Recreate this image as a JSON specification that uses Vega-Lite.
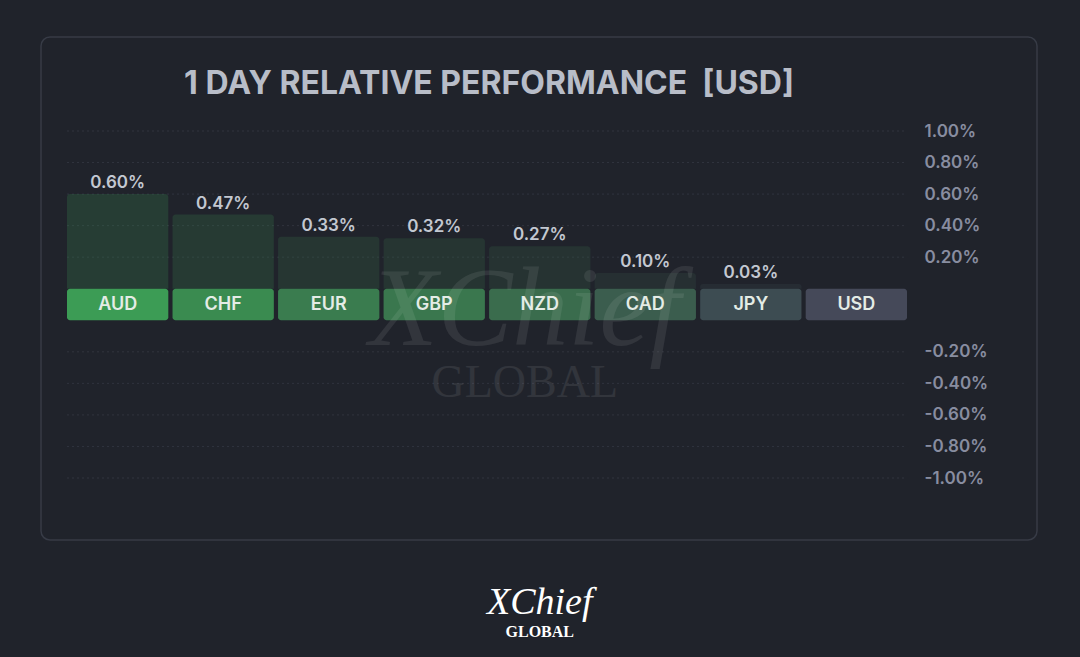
{
  "$schema": "https://vega.github.io/schema/vega-lite/v6.json",
  "width": 996,
  "height": 503,
  "autosize": {"type": "none"},
  "padding": {"left": 41, "top": 37, "right": 43, "bottom": 117},
  "background": "#20232b",
  "view": {"fill": "#20232b", "stroke": "#373b46", "strokeWidth": 1.5, "cornerRadius": 9},
  "title": {
    "text": "1 DAY RELATIVE PERFORMANCE\u00a0 [USD]",
    "orient": "top",
    "anchor": "middle",
    "frame": "group",
    "offset": -89,
    "dx": -50,
    "baseline": "alphabetic",
    "font": "Inter",
    "fontSize": 32,
    "fontWeight": 700,
    "color": "#b8bdc8"
  },
  "datasets": {
    "perf": [
      {"currency": "AUD", "change": 0.0060},
      {"currency": "CHF", "change": 0.0047},
      {"currency": "EUR", "change": 0.0033},
      {"currency": "GBP", "change": 0.0032},
      {"currency": "NZD", "change": 0.0027},
      {"currency": "CAD", "change": 0.0010},
      {"currency": "JPY", "change": 0.0003},
      {"currency": "USD", "change": 0}
    ],
    "grid": [
      {"level": 0.010}, {"level": 0.008}, {"level": 0.006}, {"level": 0.004}, {"level": 0.002},
      {"level": -0.004}, {"level": -0.006}, {"level": -0.008}, {"level": -0.010}, {"level": -0.012}
    ]
  },
  "encoding": {
    "x": {
      "field": "currency",
      "type": "nominal",
      "axis": null,
      "scale": {
        "domain": ["AUD", "CHF", "EUR", "GBP", "NZD", "CAD", "JPY", "USD"],
        "range": [26, 866],
        "paddingInner": 0.04,
        "paddingOuter": 0
      }
    }
  },
  "layer": [
    {
      "data": {"name": "grid"},
      "mark": {"type": "rule", "color": "#30343e", "strokeDash": [2, 3], "strokeWidth": 1},
      "encoding": {
        "x": {"datum": "AUD", "bandPosition": 0},
        "x2": {"datum": "USD", "bandPosition": 1},
        "y": {
          "field": "level",
          "type": "quantitative",
          "scale": {"domain": [-0.012, 0.010], "range": [441, 94], "zero": false, "nice": false},
          "axis": {
            "orient": "right",
            "values": [0.010, 0.008, 0.006, 0.004, 0.002, -0.004, -0.006, -0.008, -0.010, -0.012],
            "labelExpr": "datum.value > 0 ? format(datum.value, '.2%') : '-' + format(-(datum.value + 0.002), '.2%')",
            "offset": -114,
            "ticks": false,
            "tickSize": 0,
            "domain": false,
            "grid": false,
            "title": null,
            "labelPadding": 1,
            "labelFont": "Inter",
            "labelFontSize": 17,
            "labelFontWeight": 600,
            "labelColor": "#888da0",
            "labelAlign": "left",
            "labelBaseline": "middle"
          }
        }
      }
    },
    {
      "data": {"name": "perf"},
      "mark": {"type": "bar", "opacity": 0.22, "cornerRadiusTopLeft": 3, "cornerRadiusTopRight": 3},
      "encoding": {
        "y": {"field": "change", "type": "quantitative"},
        "y2": {"datum": 0},
        "color": {
          "field": "currency",
          "type": "nominal",
          "legend": null,
          "scale": {
            "domain": ["AUD", "CHF", "EUR", "GBP", "NZD", "CAD", "JPY", "USD"],
            "range": ["#3c9c55", "#3a8b50", "#3a7c4f", "#3a774e", "#3a6c4d", "#3b5d4e", "#3d4c52", "#454959"]
          }
        }
      }
    },
    {
      "data": {"name": "perf"},
      "mark": {"type": "bar", "cornerRadius": 3},
      "encoding": {
        "y": {"datum": 0},
        "y2": {"datum": -0.002},
        "color": {"field": "currency", "type": "nominal"}
      }
    },
    {
      "data": {"values": [{"mark": "XChief", "pos": -0.00357}]},
      "mark": {"type": "text", "font": "Liberation Serif", "fontStyle": "italic", "fontSize": 112, "fill": "#ffffff", "opacity": 0.08, "align": "center", "baseline": "alphabetic", "dx": -15},
      "encoding": {
        "x": {"datum": "NZD"},
        "y": {"field": "pos", "type": "quantitative"},
        "text": {"field": "mark"}
      }
    },
    {
      "data": {"values": [{"mark": "GLOBAL", "pos": -0.00687}]},
      "mark": {"type": "text", "font": "Liberation Serif", "fontSize": 46, "fill": "#ffffff", "opacity": 0.08, "align": "center", "baseline": "alphabetic", "dx": -15},
      "encoding": {
        "x": {"datum": "NZD"},
        "y": {"field": "pos", "type": "quantitative"},
        "text": {"field": "mark"}
      }
    },
    {
      "data": {"name": "perf"},
      "mark": {"type": "text", "font": "Inter", "fontSize": 18, "fontWeight": 600, "color": "#e4ece6", "baseline": "middle"},
      "encoding": {
        "y": {"datum": -0.001},
        "text": {"field": "currency"}
      }
    },
    {
      "data": {"name": "perf"},
      "transform": [{"filter": "datum.change > 0"}],
      "mark": {"type": "text", "font": "Inter", "fontSize": 17, "fontWeight": 600, "color": "#c3c8d1", "baseline": "alphabetic", "dy": -6},
      "encoding": {
        "y": {"field": "change", "type": "quantitative"},
        "text": {"field": "change", "format": ".2%"}
      }
    },
    {
      "data": {"values": [{"mark": "XChief", "pos": -0.02063}]},
      "mark": {"type": "text", "font": "Liberation Serif", "fontStyle": "italic", "fontSize": 38, "fill": "#ffffff", "align": "center", "baseline": "alphabetic"},
      "encoding": {
        "x": {"datum": "NZD"},
        "y": {"field": "pos", "type": "quantitative"},
        "text": {"field": "mark"}
      }
    },
    {
      "data": {"values": [{"mark": "GLOBAL", "pos": -0.02209}]},
      "mark": {"type": "text", "font": "Liberation Serif", "fontSize": 16, "fontWeight": 700, "fill": "#ffffff", "align": "center", "baseline": "alphabetic"},
      "encoding": {
        "x": {"datum": "NZD"},
        "y": {"field": "pos", "type": "quantitative"},
        "text": {"field": "mark"}
      }
    }
  ]
}
